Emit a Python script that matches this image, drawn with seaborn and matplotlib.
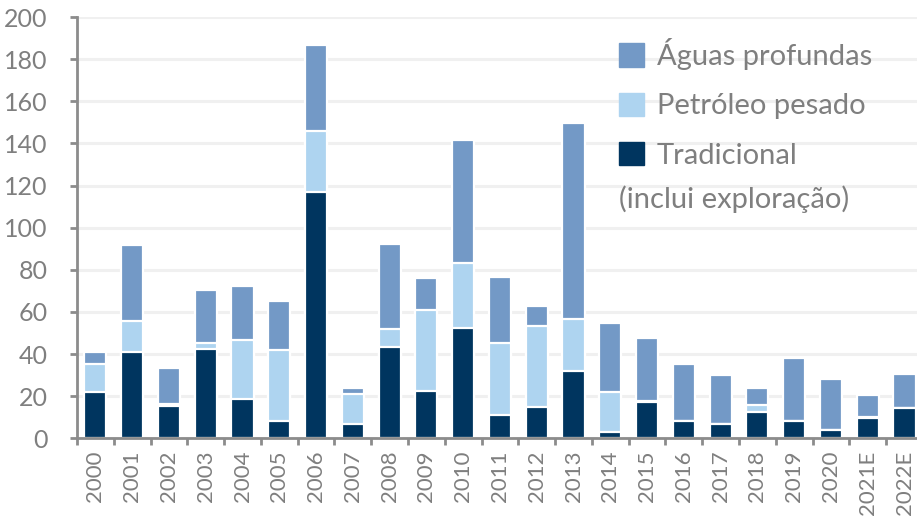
import matplotlib
matplotlib.use("Agg")
import matplotlib.pyplot as plt
import seaborn as sns
import pandas as pd
import numpy as np
from matplotlib.patches import Patch

years = ["2000", "2001", "2002", "2003", "2004", "2005", "2006", "2007", "2008", "2009",
         "2010", "2011", "2012", "2013", "2014", "2015", "2016", "2017", "2018", "2019",
         "2020", "2021E", "2022E"]
tradicional = [21.8, 41.0, 15.4, 42.2, 18.5, 8.3, 117.0, 7.0, 43.5, 22.4, 52.2, 11.1, 15.0,
               32.1, 3.1, 17.4, 8.0, 6.7, 12.5, 8.3, 3.8, 9.7, 14.4]
petroleo_pesado = [13.7, 14.6, 0.8, 3.2, 28.3, 33.5, 28.8, 14.0, 8.5, 38.4, 31.0, 34.1, 38.4,
                   24.6, 19.0, 0.3, 0.0, 0.2, 3.5, 0.0, 0.0, 0.6, 0.0]
aguas_profundas = [5.6, 36.2, 17.3, 25.0, 25.6, 23.4, 40.9, 2.8, 40.3, 15.1, 58.3, 31.2, 9.4,
                   93.1, 32.4, 29.7, 27.1, 23.0, 7.8, 30.0, 24.2, 10.2, 16.0]

labels = ["Águas profundas", "Petróleo pesado", "Tradicional"]
label_extra = "(inclui exploração)"
yticks = [0, 20, 40, 60, 80, 100, 120, 140, 160, 180, 200]

c_agua = "#7399c6"
c_petro = "#aed4f0"
c_trad = "#00355f"
gray = "#7f7f7f"

df = pd.DataFrame({"ano": years, "trad": tradicional, "petro": petroleo_pesado,
                   "agua": aguas_profundas})
df["cum_petro"] = df["trad"] + df["petro"]
df["total"] = df["cum_petro"] + df["agua"]

sns.set_theme(style="white")
plt.rcParams["font.family"] = ["Lato", "DejaVu Sans"]

fig = plt.figure(figsize=(9.17, 5.19), dpi=100)
ax = fig.add_axes([77 / 917, (519 - 438.3) / 519, (922.9 - 77) / 917, (438.3 - 17) / 519])

common = dict(data=df, x="ano", width=0.6, edgecolor="white", linewidth=1.6,
              ax=ax, order=years, zorder=3)
sns.barplot(y="total", color=c_agua, saturation=1, **common)
sns.barplot(y="cum_petro", color=c_petro, saturation=1, **common)
sns.barplot(y="trad", color=c_trad, saturation=1, **common)

ax.set_xlim(-0.5, len(years) - 0.5)
ax.set_ylim(0, 200)
ax.set_yticks(yticks)
ax.set_yticklabels([str(v) for v in yticks])
ax.set_xlabel("")
ax.set_ylabel("")
ax.grid(axis="y", color="#f0f0f0", linewidth=2.2, zorder=0)
ax.set_axisbelow(True)

for s in ["top", "right"]:
    ax.spines[s].set_visible(False)
for s in ["left", "bottom"]:
    ax.spines[s].set_color("#8c8c8c")
    ax.spines[s].set_linewidth(2)
    ax.spines[s].set_zorder(4)

ax.tick_params(axis="y", which="major", left=True, length=5, width=2, color="#8c8c8c",
               labelsize=18, labelcolor=gray, pad=16)
ax.tick_params(axis="x", which="major", bottom=False, length=0, labelsize=16, labelcolor=gray,
               labelrotation=90, pad=9)
ax.set_xticks(np.arange(-0.5, len(years), 1.0), minor=True)
ax.tick_params(axis="x", which="minor", bottom=True, length=5, width=2, color="#8c8c8c")

handles = [Patch(facecolor=c_agua, edgecolor=c_agua),
           Patch(facecolor=c_petro, edgecolor=c_petro),
           Patch(facecolor=c_trad, edgecolor=c_trad)]
leg = fig.legend(handles, labels, loc="upper left", bbox_to_anchor=(619 / 917, 1 - 38 / 519),
                 frameon=False, fontsize=21, handlelength=0.85, handleheight=0.85,
                 handletextpad=0.45, labelspacing=0.78, borderpad=0, borderaxespad=0)
for t in leg.get_texts():
    t.set_color(gray)
fig.text(619 / 917, 1 - 199 / 519, label_extra, fontsize=21, color=gray, va="center",
         ha="left")

fig.savefig("out.png", dpi=100)
